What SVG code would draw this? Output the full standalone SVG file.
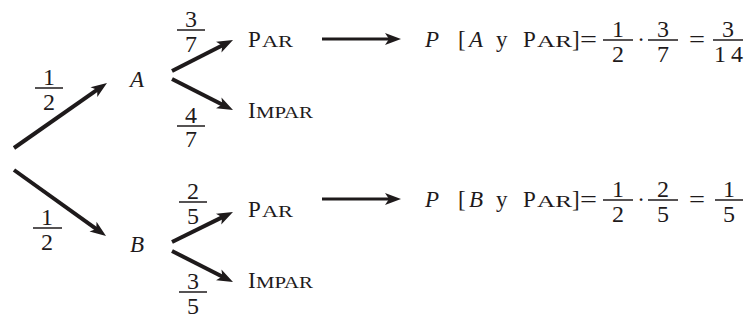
<svg xmlns="http://www.w3.org/2000/svg" width="749" height="322" viewBox="0 0 749 322">
<style>
text{font-family:"Liberation Serif","Times New Roman",serif;font-size:23px;fill:#1e1a1b}
.it{font-style:italic}
.sc{font-size:17px}
.m{text-anchor:middle}
.d{font-size:24px}
.edge{stroke:#1e1a1b;stroke-width:4;fill:none;marker-end:url(#ah)}
.eq{stroke:#1e1a1b;stroke-width:3.2;fill:none;marker-end:url(#ah)}
.bar{stroke:#1e1a1b;stroke-width:1.5}
</style>
<defs>
<marker id="ah" markerUnits="userSpaceOnUse" markerWidth="18" markerHeight="14" refX="6" refY="6" orient="auto" overflow="visible">
<path d="M0,0 L16,6 L0,12 L4,6 z" fill="#1e1a1b"/>
</marker>
</defs>
<rect width="749" height="322" fill="#fff"/>
<g id="connectors">
<line class="edge" x1="14" y1="148" x2="98.8" y2="88.7"/>
<line class="edge" x1="14" y1="170" x2="97.9" y2="230.2"/>
<line class="edge" x1="172" y1="71" x2="224.1" y2="44.5"/>
<line class="edge" x1="172" y1="79" x2="224.1" y2="105.5"/>
<line class="edge" x1="172" y1="242" x2="224" y2="216.4"/>
<line class="edge" x1="172" y1="251" x2="224.1" y2="277.5"/>
<line class="eq" x1="322" y1="39" x2="391" y2="39"/>
<line class="eq" x1="322" y1="199" x2="391" y2="199"/>
</g>
<g id="edge-labels">
<g id="f-root-A"><text class="m d" x="49" y="85">1</text><line class="bar" x1="35" y1="88" x2="63" y2="88"/><text class="m d" x="49" y="110">2</text></g>
<g id="f-root-B"><text class="m d" x="47" y="225">1</text><line class="bar" x1="33" y1="228" x2="62" y2="228"/><text class="m d" x="47" y="250">2</text></g>
<g id="f-A-par"><text class="m d" x="191" y="27">3</text><line class="bar" x1="177" y1="30" x2="205" y2="30"/><text class="m d" x="191" y="52">7</text></g>
<g id="f-A-impar"><text class="m d" x="191" y="123">4</text><line class="bar" x1="177" y1="126" x2="205" y2="126"/><text class="m d" x="191" y="147">7</text></g>
<g id="f-B-par"><text class="m d" x="193" y="199">2</text><line class="bar" x1="179" y1="202" x2="207" y2="202"/><text class="m d" x="193" y="224">5</text></g>
<g id="f-B-impar"><text class="m d" x="193" y="289">3</text><line class="bar" x1="179" y1="292" x2="207" y2="292"/><text class="m d" x="193" y="314">5</text></g>
</g>
<g id="node-A"><text class="it" x="130" y="87">A</text></g>
<g id="node-B"><text class="it" x="130" y="252">B</text></g>
<g id="node-A-par"><text x="248" y="47">P</text><text class="sc" x="262" y="47" textLength="31" lengthAdjust="spacingAndGlyphs">AR</text></g>
<g id="node-A-impar"><text x="248" y="118">I</text><text class="sc" x="256" y="118" textLength="57" lengthAdjust="spacingAndGlyphs">MPAR</text></g>
<g id="node-B-par"><text x="248" y="217">P</text><text class="sc" x="262" y="217" textLength="31" lengthAdjust="spacingAndGlyphs">AR</text></g>
<g id="node-B-impar"><text x="248" y="288">I</text><text class="sc" x="256" y="288" textLength="57" lengthAdjust="spacingAndGlyphs">MPAR</text></g>
<g id="eq-A">
<text class="it" x="425" y="47">P</text>
<text x="458" y="47">[</text>
<text class="it" x="469" y="47">A</text>
<text x="496" y="47">y</text>
<text x="523" y="47">P</text><text class="sc" x="537" y="47" textLength="35" lengthAdjust="spacingAndGlyphs">AR</text>
<text x="572" y="47">]</text>
<text x="580" y="47" textLength="17" lengthAdjust="spacingAndGlyphs">=</text>
<text class="m d" x="618" y="37">1</text><line class="bar" x1="603" y1="40" x2="633" y2="40"/><text class="m d" x="618" y="62">2</text>
<text class="m" x="641" y="47">·</text>
<text class="m d" x="663" y="37">3</text><line class="bar" x1="648" y1="40" x2="678" y2="40"/><text class="m d" x="663" y="62">7</text>
<text x="689" y="47" textLength="16" lengthAdjust="spacingAndGlyphs">=</text>
<text class="m d" x="728" y="37">3</text><line class="bar" x1="713" y1="40" x2="743" y2="40"/><text class="d" x="714" y="62" textLength="29" lengthAdjust="spacing">14</text>
</g>
<g id="eq-B">
<text class="it" x="425" y="207">P</text>
<text x="458" y="207">[</text>
<text class="it" x="469" y="207">B</text>
<text x="496" y="207">y</text>
<text x="523" y="207">P</text><text class="sc" x="537" y="207" textLength="35" lengthAdjust="spacingAndGlyphs">AR</text>
<text x="572" y="207">]</text>
<text x="580" y="207" textLength="17" lengthAdjust="spacingAndGlyphs">=</text>
<text class="m d" x="618" y="197">1</text><line class="bar" x1="603" y1="200" x2="633" y2="200"/><text class="m d" x="618" y="222">2</text>
<text class="m" x="641" y="207">·</text>
<text class="m d" x="663" y="197">2</text><line class="bar" x1="648" y1="200" x2="678" y2="200"/><text class="m d" x="663" y="222">5</text>
<text x="689" y="207" textLength="16" lengthAdjust="spacingAndGlyphs">=</text>
<text class="m d" x="729" y="197">1</text><line class="bar" x1="715" y1="200" x2="743" y2="200"/><text class="m d" x="729" y="222">5</text>
</g>
</svg>
